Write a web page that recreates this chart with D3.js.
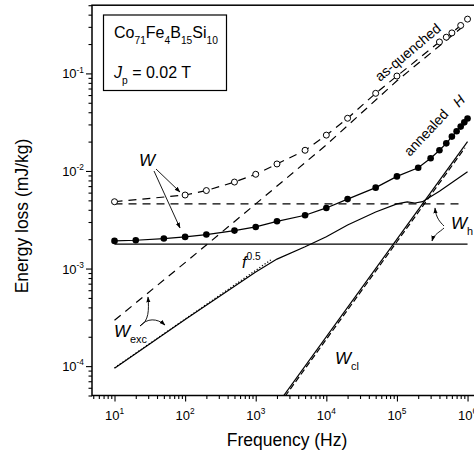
<!DOCTYPE html>
<html>
<head>
<meta charset="utf-8">
<script src="https://cdn.jsdelivr.net/npm/d3@7"></script>
<style>
body { margin: 0; background: #fff; }
svg text { font-family: "Liberation Sans", Arial, sans-serif; fill: #000; }
</style>
</head>
<body>
<svg id="chart" width="474" height="462"></svg>
<script>
// Values. Frequency in Hz, energy loss in mJ/kg.
// as-quenched: measured (open circles) and total fit (dashed)
var asqFreq = [10, 100, 200, 500, 1e3, 2e3, 5e3, 1e4, 2e4, 5e4, 1e5, 4e5, 5e5, 6e5, 8e5, 1e6];
var asqLoss = [4.84e-3, 5.67e-3, 6.3e-3, 7.7e-3, 9.25e-3, 1.18e-2, 1.63e-2, 2.33e-2, 3.47e-2, 6.25e-2, 9.4e-2, 0.21, 0.235, 0.26, 0.31, 0.36];
// annealed: measured (filled circles) and total fit (solid)
var annFreq = [10, 20, 50, 100, 200, 500, 1e3, 2e3, 5e3, 1e4, 2e4, 5e4, 1e5, 2e5, 3e5, 4e5, 5e5, 6e5, 7e5, 8e5, 9e5, 1e6];
var annLoss = [1.92e-3, 1.95e-3, 2.03e-3, 2.11e-3, 2.23e-3, 2.45e-3, 2.67e-3, 3.05e-3, 3.52e-3, 4.18e-3, 5.15e-3, 6.75e-3, 8.8e-3, 1.08e-2, 1.35e-2, 1.63e-2, 1.92e-2, 2.25e-2, 2.55e-2, 2.85e-2, 3.15e-2, 3.45e-2];
// excess loss
var excAsqFreq = [10, 100, 1e3, 1e4, 1e5, 1e6];
var excAsqLoss = [2.95e-4, 1.15e-3, 4.6e-3, 1.85e-2, 8.4e-2, 0.33];
var excAnnFreq = [10, 100, 1e3, 2e3, 5e3, 1e4, 2e4, 5e4, 1e5, 1.4e5, 1.8e5, 2.3e5, 4e5, 1e6];
var excAnnLoss = [9.5e-5, 3.0e-4, 9.2e-4, 1.25e-3, 1.67e-3, 2.12e-3, 2.8e-3, 3.8e-3, 4.6e-3, 4.82e-3, 4.7e-3, 4.85e-3, 6.2e-3, 9.8e-3];
// f^0.5 guide
var sqrtFreq = [10, 1700];
var sqrtLoss = [9.6e-5, 1.25e-3];
// classical loss
var clAnnFreq = [2400, 1e6];
var clAnnLoss = [4.8e-5, 2.0e-2];
var clAsqFreq = [2600, 9.2e5];
var clAsqLoss = [4.9e-5, 1.73e-2];
// hysteresis loss
var hAsqFreq = [10, 8.5e5];
var hAsqLoss = [4.6e-3, 4.6e-3];
var hAnnFreq = [10, 1e6];
var hAnnLoss = [1.78e-3, 1.78e-3];
// axes
var xDecades = [10, 100, 1e3, 1e4, 1e5, 1e6];
var yDecades = [1e-4, 1e-3, 1e-2, 1e-1];
var xExp = ["1", "2", "3", "4", "5", "6"];
var yExp = ["-4", "-3", "-2", "-1"];

var svg = d3.select("#chart");
var padL = 92, padT = 5.2, padB = 395.5, padR = 488.8;
var x = d3.scaleLog().domain([4.8, 2e6]).range([padL, padR]);
var y = d3.scaleLog().domain([5e-5, 0.5]).range([padB, padT]);

var defs = svg.append("defs");
defs.append("clipPath").attr("id", "plot")
    .append("rect").attr("x", padL).attr("y", padT).attr("width", padR - padL).attr("height", padB - padT);
defs.append("marker").attr("id", "arrow").attr("viewBox", "0 0 10 10")
    .attr("refX", 9).attr("refY", 5).attr("markerWidth", 6).attr("markerHeight", 6)
    .attr("markerUnits", "userSpaceOnUse").attr("orient", "auto")
    .append("path").attr("d", "M0,1.5L10,5L0,8.5Z").attr("fill", "#000");

// rich text with sub/superscripts
function rich(parent, px, py, size, parts, anchor) {
    var t = parent.append("text").attr("x", px).attr("y", py)
        .style("font-size", size + "px").attr("text-anchor", anchor || "start");
    var shift = 0;
    parts.forEach(function (p) {
        var want = p.sub ? size * 0.36 : p.sup ? -size * 0.45 : 0;
        if (p.dy !== undefined) want = p.dy;
        t.append("tspan").attr("dy", want - shift)
            .style("font-size", (p.sub || p.sup ? size * 0.64 : size) + "px")
            .style("font-style", p.it ? "italic" : null)
            .text(p.t);
        shift = want;
    });
    return t;
}

// axes: minor ticks, then major ticks
var minorX = x.ticks().filter(function (v) { return xDecades.indexOf(v) < 0; });
var minorY = y.ticks().filter(function (v) { return yDecades.indexOf(v) < 0; });
function axisStyle(g) {
    g.select(".domain").remove();
    g.selectAll("line").attr("stroke", "#000").attr("stroke-width", 1.1);
    g.selectAll("text").remove();
}
svg.append("g").attr("transform", "translate(0," + padB + ")")
    .call(d3.axisBottom(x).tickValues(minorX).tickSize(3.5)).call(axisStyle);
svg.append("g").attr("transform", "translate(0," + padB + ")")
    .call(d3.axisBottom(x).tickValues(xDecades).tickSize(6)).call(axisStyle);
svg.append("g").attr("transform", "translate(" + padL + ",0)")
    .call(d3.axisLeft(y).tickValues(minorY).tickSize(3.5)).call(axisStyle);
svg.append("g").attr("transform", "translate(" + padL + ",0)")
    .call(d3.axisLeft(y).tickValues(yDecades).tickSize(6)).call(axisStyle);

xDecades.forEach(function (v, i) {
    rich(svg, x(v), 420, 13, [{ t: "10" }, { t: xExp[i], sup: true }], "middle");
});
yDecades.forEach(function (v, i) {
    rich(svg, 84, y(v) + 5, 13, [{ t: "10" }, { t: yExp[i], sup: true }], "end");
});

svg.append("rect").attr("x", padL).attr("y", padT).attr("width", padR - padL).attr("height", padB - padT)
    .attr("fill", "none").attr("stroke", "#000").attr("stroke-width", 1.5);

svg.append("text").attr("x", 287).attr("y", 446).attr("text-anchor", "middle")
    .style("font-size", "17.5px").text("Frequency (Hz)");
svg.append("text").attr("transform", "translate(28,216) rotate(-90)").attr("text-anchor", "middle")
    .style("font-size", "17.5px").text("Energy loss (mJ/kg)");

// curves
var plot = svg.append("g").attr("clip-path", "url(#plot)");
var line = d3.line().x(function (d) { return x(d[0]); }).y(function (d) { return y(d[1]); });
function curve(fs, ws, dash, width) {
    plot.append("path").datum(d3.zip(fs, ws)).attr("d", line)
        .attr("fill", "none").attr("stroke", "#000").attr("stroke-width", width || 1.2)
        .attr("stroke-dasharray", dash || null);
}
curve(hAsqFreq, hAsqLoss, "8,6");
curve(hAnnFreq, hAnnLoss);
curve(excAsqFreq, excAsqLoss, "8,6");
curve(excAnnFreq, excAnnLoss);
curve(sqrtFreq, sqrtLoss, "1.2,2");
curve(clAsqFreq, clAsqLoss, "6,3");
curve(clAnnFreq, clAnnLoss);
curve(asqFreq, asqLoss, "8,6");
curve(annFreq, annLoss);

plot.selectAll("circle.asq").data(d3.zip(asqFreq, asqLoss)).enter().append("circle")
    .attr("cx", function (d) { return x(d[0]); }).attr("cy", function (d) { return y(d[1]); })
    .attr("r", 3).attr("fill", "#fff").attr("stroke", "#000").attr("stroke-width", 1);
plot.selectAll("circle.ann").data(d3.zip(annFreq, annLoss)).enter().append("circle")
    .attr("cx", function (d) { return x(d[0]); }).attr("cy", function (d) { return y(d[1]); })
    .attr("r", 3.3).attr("fill", "#000");

// composition box
svg.append("rect").attr("x", 103.5).attr("y", 15).attr("width", 123).attr("height", 75.5)
    .attr("fill", "#fff").attr("stroke", "#000").attr("stroke-width", 1.2);
rich(svg, 114, 38, 16, [{ t: "Co" }, { t: "71", sub: true }, { t: "Fe" }, { t: "4", sub: true },
    { t: "B" }, { t: "15", sub: true }, { t: "Si" }, { t: "10", sub: true }]);
rich(svg, 114, 78, 16, [{ t: "J", it: true }, { t: "p", sub: true }, { t: " = 0.02 T" }]);

// curve labels
svg.append("text").attr("transform", "translate(380,82) rotate(-40)").style("font-size", "14px").text("as-quenched");
svg.append("text").attr("transform", "translate(410,157) rotate(-47)").style("font-size", "14px").text("annealed");
svg.append("text").attr("transform", "translate(459,108) rotate(-47)").style("font-size", "14px")
    .style("font-style", "italic").text("H");

rich(svg, 139, 165.5, 17, [{ t: "W", it: true }]);
rich(svg, 114, 337, 17, [{ t: "W", it: true }, { t: "exc", sub: true }]);
rich(svg, 335, 364, 17, [{ t: "W", it: true }, { t: "cl", sub: true }]);
rich(svg, 451, 229, 17, [{ t: "W", it: true }, { t: "h", sub: true }]);
rich(svg, 242, 268, 16, [{ t: "f", it: true }, { t: "0.5", sup: true, dy: -8 }]);

// arrows
var arrows = [
    "M156,169L180,192",
    "M154,171L180,228",
    "M140,326C149,321 149,310 148,297",
    "M140,326C147,318 157,318 165,325",
    "M444,226C440,222 436,218 435,208",
    "M444,228C440,232 434,234 432,241"
];
arrows.forEach(function (d) {
    svg.append("path").attr("d", d).attr("fill", "none").attr("stroke", "#000")
        .attr("stroke-width", 0.9).attr("marker-end", "url(#arrow)");
});
</script>
</body>
</html>
